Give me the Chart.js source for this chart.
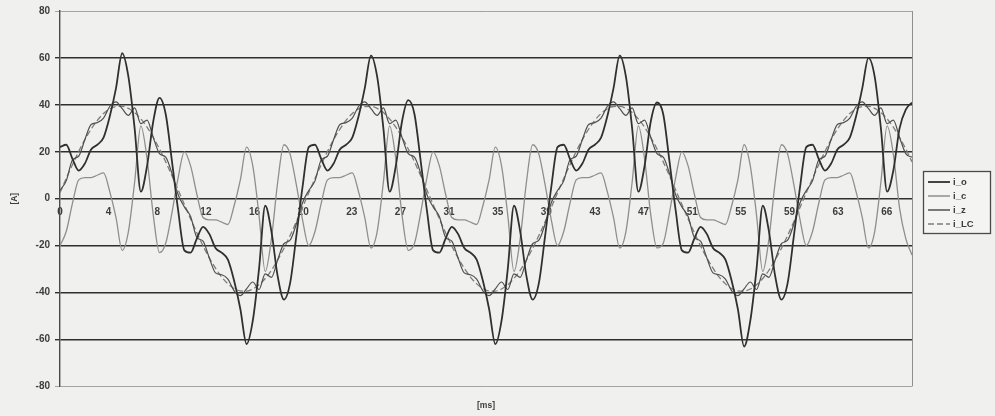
<!DOCTYPE html>
<html>
<head>
<meta charset="utf-8">
<script src="https://cdn.jsdelivr.net/npm/chart.js@4.4.1/dist/chart.umd.min.js"></script>
<style>
  html, body { margin: 0; padding: 0; background: #f0f1ef; }
  canvas { display: block; }
</style>
</head>
<body>
<canvas id="chart" width="995" height="416"></canvas>
<script>
// Sample instants [ms]
const timeMs = [
  0,0.5,1,1.5,2,2.5,3,3.5,4,4.5,5,5.5,6,6.5,7,7.5,8,8.5,9,9.5,
  10,10.5,11,11.5,12,12.5,13,13.5,14,14.5,15,15.5,16,16.5,17,17.5,18,18.5,19,19.5,
  20,20.5,21,21.5,22,22.5,23,23.5,24,24.5,25,25.5,26,26.5,27,27.5,28,28.5,29,29.5,
  30,30.5,31,31.5,32,32.5,33,33.5,34,34.5,35,35.5,36,36.5,37,37.5,38,38.5,39,39.5,
  40,40.5,41,41.5,42,42.5,43,43.5,44,44.5,45,45.5,46,46.5,47,47.5,48,48.5,49,49.5,
  50,50.5,51,51.5,52,52.5,53,53.5,54,54.5,55,55.5,56,56.5,57,57.5,58,58.5,59,59.5,
  60,60.5,61,61.5,62,62.5,63,63.5,64,64.5,65,65.5,66,66.5,67,67.5,68,68.5
];

// Time-axis tick positions [ms] and their printed labels
const tickTimes = [0,3.91,7.82,11.73,15.64,19.55,23.46,27.37,31.28,35.19,39.1,43.01,46.92,50.83,54.74,58.65,62.56,66.47];
const tickLabels = ['0','4','8','12','16','20','23','27','31','35','39','43','47','51','55','59','63','66'];

const seriesNames = ['i_o', 'i_c', 'i_z', 'i_LC'];

// Load current i_o [A]
const iO = [
  22,23,17,12,15,21,23,26,35,47,62,52,30,3,14,33,43,36,16,-5,
  -22,-23,-17,-12,-15,-21,-23,-26,-35,-47,-62,-52,-30,-3,-14,-33,-43,-36,-16,5,
  22,23,17,12,15,21,23,26,35,47,61,52,30,3,14,33,42,36,16,-5,
  -22,-23,-17,-12,-15,-21,-23,-26,-35,-47,-62,-52,-30,-3,-14,-33,-43,-36,-16,5,
  22,23,17,12,15,21,23,26,35,47,61,52,30,3,14,33,41,36,16,-5,
  -22,-23,-17,-12,-15,-21,-23,-26,-35,-47,-63,-52,-30,-3,-14,-33,-43,-36,-16,5,
  22,23,17,12,15,21,23,26,35,47,60,52,30,3,12,30,38,41
];

// Compensator current i_c [A]
const iC = [
  -20,-14,-2,8,9,9,10,11,3,-8,-22,-14,7,31,17,-7,-23,-19,-6,9,
  20,14,2,-8,-9,-9,-10,-11,-3,8,22,14,-7,-31,-17,7,23,19,6,-9,
  -20,-14,-2,8,9,9,10,11,3,-8,-21,-14,7,31,17,-7,-22,-19,-6,9,
  20,14,2,-8,-9,-9,-10,-11,-3,8,22,14,-7,-31,-17,7,23,19,6,-9,
  -20,-14,-2,8,9,9,10,11,3,-8,-21,-14,7,31,17,-7,-21,-19,-6,9,
  20,14,2,-8,-9,-9,-10,-11,-3,8,23,14,-7,-31,-17,7,23,19,6,-9,
  -20,-14,-2,8,9,9,10,11,3,-8,-21,-14,7,31,19,-4,-17,-24
];

// Supply current i_z [A]
const iZ = [
  3.5,7.6,16.5,18.1,25.2,31.6,32.4,34.3,39.3,41.3,38.4,35.5,38.7,32,33.5,26.1,19.2,17.7,10.8,1.7,
  -3.5,-7.6,-16.5,-18.1,-25.2,-31.6,-32.4,-34.3,-39.3,-41.3,-38.4,-35.5,-38.7,-32,-33.5,-26.1,-19.2,-17.7,-10.8,-1.7,
  3.5,7.6,16.5,18.1,25.2,31.6,32.4,34.3,39.3,41.3,38.4,35.5,38.7,32,33.5,26.1,19.2,17.7,10.8,1.7,
  -3.5,-7.6,-16.5,-18.1,-25.2,-31.6,-32.4,-34.3,-39.3,-41.3,-38.4,-35.5,-38.7,-32,-33.5,-26.1,-19.2,-17.7,-10.8,-1.7,
  3.5,7.6,16.5,18.1,25.2,31.6,32.4,34.3,39.3,41.3,38.4,35.5,38.7,32,33.5,26.1,19.2,17.7,10.8,1.7,
  -3.5,-7.6,-16.5,-18.1,-25.2,-31.6,-32.4,-34.3,-39.3,-41.3,-38.4,-35.5,-38.7,-32,-33.5,-26.1,-19.2,-17.7,-10.8,-1.7,
  3.5,7.6,16.5,18.1,25.2,31.6,32.4,34.3,39.3,41.3,38.4,35.5,38.7,32,33.5,26.1,19.2,17.7
];

// LC branch current i_LC [A]
const iLC = [
  2.5,8.6,14.5,20.1,25.2,29.6,33.4,36.3,38.3,39.3,39.4,38.5,36.7,34,30.5,26.1,21.2,15.7,9.8,3.7,
  -2.5,-8.6,-14.5,-20.1,-25.2,-29.6,-33.4,-36.3,-38.3,-39.3,-39.4,-38.5,-36.7,-34,-30.5,-26.1,-21.2,-15.7,-9.8,-3.7,
  2.5,8.6,14.5,20.1,25.2,29.6,33.4,36.3,38.3,39.3,39.4,38.5,36.7,34,30.5,26.1,21.2,15.7,9.8,3.7,
  -2.5,-8.6,-14.5,-20.1,-25.2,-29.6,-33.4,-36.3,-38.3,-39.3,-39.4,-38.5,-36.7,-34,-30.5,-26.1,-21.2,-15.7,-9.8,-3.7,
  2.5,8.6,14.5,20.1,25.2,29.6,33.4,36.3,38.3,39.3,39.4,38.5,36.7,34,30.5,26.1,21.2,15.7,9.8,3.7,
  -2.5,-8.6,-14.5,-20.1,-25.2,-29.6,-33.4,-36.3,-38.3,-39.3,-39.4,-38.5,-36.7,-34,-30.5,-26.1,-21.2,-15.7,-9.8,-3.7,
  2.5,8.6,14.5,20.1,25.2,29.6,33.4,36.3,38.3,39.3,39.4,38.5,36.7,34,30.5,26.1,21.2,15.7
];

const FONT = '"Liberation Sans", Arial, sans-serif';

const toPoints = values => values.map((v, i) => ({ x: timeMs[i], y: v }));

const styles = [
  { color: '#303030', width: 1.8, dash: [] },
  { color: '#8e8e8e', width: 1.3, dash: [] },
  { color: '#4f4f4f', width: 1.2, dash: [] },
  { color: '#7c7c7c', width: 1.3, dash: [6, 3] }
];
const seriesValues = [iO, iC, iZ, iLC];

const datasets = seriesNames.map((name, k) => ({
  label: name,
  data: toPoints(seriesValues[k]),
  borderColor: styles[k].color,
  borderWidth: styles[k].width,
  borderDash: styles[k].dash,
  pointRadius: 0,
  fill: false,
  cubicInterpolationMode: 'monotone'
}));

// Right-hand edge of the plot frame
const plotFrame = {
  id: 'plotFrame',
  beforeDatasetsDraw(chart) {
    const { ctx, chartArea: a } = chart;
    ctx.save();
    ctx.strokeStyle = '#8f8f8f';
    ctx.lineWidth = 1;
    ctx.beginPath();
    ctx.moveTo(Math.round(a.right) + 0.5, a.top);
    ctx.lineTo(Math.round(a.right) + 0.5, a.bottom);
    ctx.stroke();
    ctx.restore();
  }
};

// Boxed legend to the right of the plot
const boxedLegend = {
  id: 'boxedLegend',
  afterDraw(chart) {
    const { ctx, chartArea: a } = chart;
    const sets = chart.data.datasets;
    const rowH = 14;
    const w = 67;
    const h = rowH * sets.length + 6;
    const x = Math.round(a.right) + 11;
    const y = Math.round((a.top + a.bottom) / 2 - h / 2 + 3);
    ctx.save();
    ctx.fillStyle = '#f4f5f3';
    ctx.fillRect(x, y, w, h);
    ctx.strokeStyle = '#4a4a4a';
    ctx.lineWidth = 1.3;
    ctx.strokeRect(x + 0.5, y + 0.5, w, h);
    ctx.font = 'bold 9.5px ' + FONT;
    ctx.textBaseline = 'middle';
    ctx.textAlign = 'left';
    sets.forEach((ds, i) => {
      const cy = y + 11 + i * rowH;
      ctx.strokeStyle = ds.borderColor;
      ctx.lineWidth = Math.max(ds.borderWidth, 1.5);
      ctx.setLineDash(ds.borderDash || []);
      ctx.beginPath();
      ctx.moveTo(x + 5, cy);
      ctx.lineTo(x + 27, cy);
      ctx.stroke();
      ctx.setLineDash([]);
      ctx.fillStyle = '#3c3c3c';
      ctx.fillText(ds.label, x + 30, cy);
    });
    ctx.restore();
  }
};

new Chart(document.getElementById('chart'), {
  type: 'line',
  data: { datasets },
  plugins: [plotFrame, boxedLegend],
  options: {
    responsive: false,
    animation: false,
    devicePixelRatio: 1,
    layout: { padding: { left: 0, top: 11, right: 83, bottom: 1.4 } },
    plugins: {
      legend: { display: false },
      tooltip: { enabled: false },
      title: {
        display: true,
        text: '[ms]',
        position: 'bottom',
        fullSize: false,
        color: '#3c3c3c',
        font: { family: FONT, size: 8.5, weight: 'bold' },
        padding: { top: 14, bottom: 4 }
      }
    },
    scales: {
      x: {
        type: 'linear',
        position: { y: 0 },
        min: 0,
        max: 68.5,
        grid: { display: false, drawTicks: false },
        border: { display: false },
        afterBuildTicks(scale) {
          scale.ticks = tickTimes.map(v => ({ value: v }));
        },
        ticks: {
          autoSkip: false,
          maxRotation: 0,
          padding: 8,
          color: '#3c3c3c',
          font: { family: FONT, size: 10, weight: 'bold' },
          callback: (v, i) => tickLabels[i]
        }
      },
      y: {
        min: -80,
        max: 80,
        afterFit(scale) { scale.width = 60; },
        ticks: {
          stepSize: 20,
          padding: 5,
          color: '#3c3c3c',
          font: { family: FONT, size: 10, weight: 'bold' }
        },
        grid: {
          color: c => (c.tick && Math.abs(c.tick.value) === 80) ? '#a3a3a3' : '#2f2f2f',
          lineWidth: c => (c.tick && Math.abs(c.tick.value) === 80) ? 1 : 1.4,
          tickLength: 5,
          drawTicks: true
        },
        border: { display: true, color: '#4a4a4a', width: 1.4 },
        title: {
          display: true,
          text: '[A]',
          color: '#3c3c3c',
          font: { family: FONT, size: 8.5, weight: 'bold' },
          padding: { top: 10, bottom: 0 }
        }
      }
    }
  }
});
</script>
</body>
</html>
